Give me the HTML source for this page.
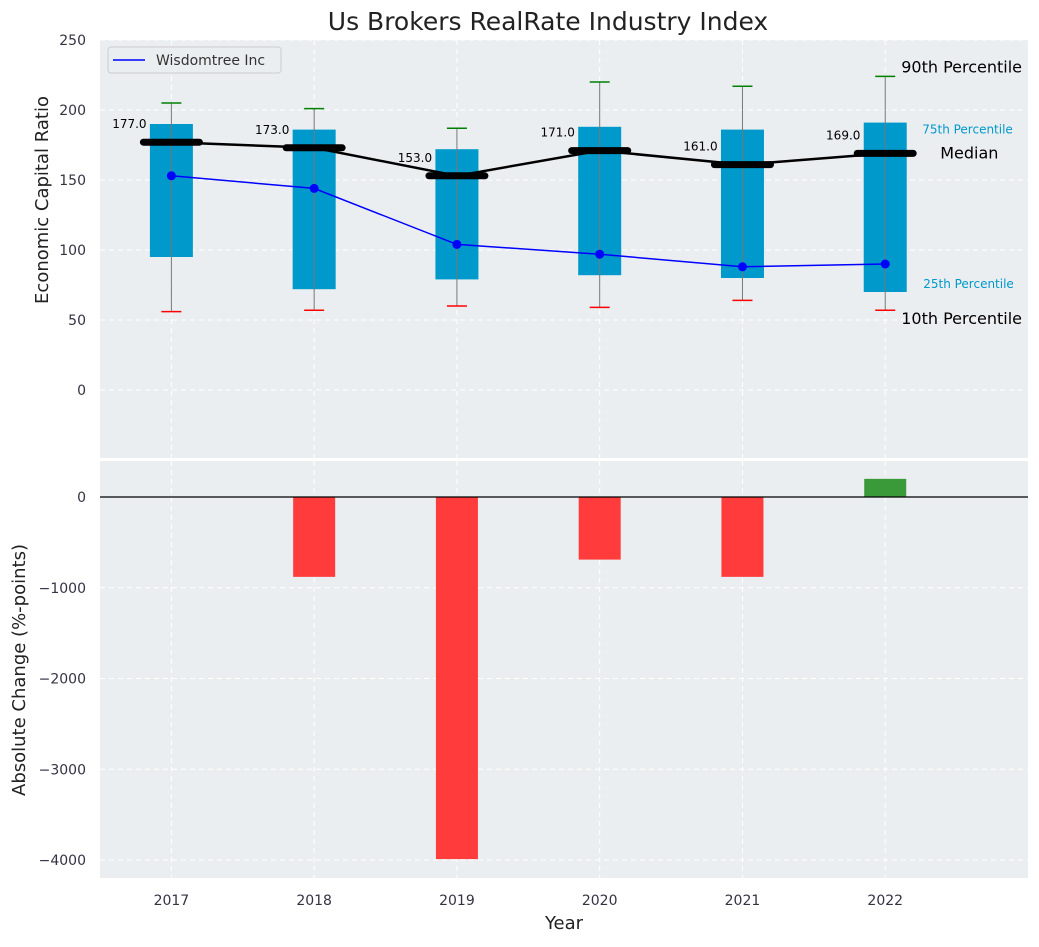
<!DOCTYPE html>
<html><head><meta charset="utf-8"><style>
body{margin:0;background:#fff;}
svg{font-family:"DejaVu Sans","Liberation Sans",sans-serif;}
</style></head><body>
<svg id="c" width="1039" height="942" xmlns="http://www.w3.org/2000/svg"></svg>
<script>
const years=[2017,2018,2019,2020,2021,2022];
const p90=[205,201,187,220,217,224];
const p75=[190,186,172,188,186,191];
const med=[177,173,153,171,161,169];
const p25=[95,72,79,82,80,70];
const p10=[56,57,60,59,64,57];
const company=[153,144,104,97,88,90];
const changes=[0,-880,-3990,-690,-880,200];
const yTicksTop=[0,50,100,150,200,250];
const yTicksBot=[-4000,-3000,-2000,-1000,0];

const NS="http://www.w3.org/2000/svg";
const svg=document.getElementById('c');
function el(t,a,p){const e=document.createElementNS(NS,t);for(const k in a)e.setAttribute(k,a[k]);(p||svg).appendChild(e);return e;}
const L=100,R=1028;
const x=v=>L+(v-2016.5)/(2023-2016.5)*(R-L);
const yT=v=>390-v*1.4;
const yB=v=>497-v*0.09075;

let t=el('text',{x:548,y:30,'text-anchor':'middle','font-size':25,fill:'#222'});t.textContent='Us Brokers RealRate Industry Index';


let bg=el('rect',{x:L,y:40,width:R-L,height:418,fill:'#eaeef0'});

let bg2=el('rect',{x:L,y:461,width:R-L,height:417,fill:'#eaeef0'});


years.forEach(yr=>{
 el('line',{x1:x(yr),x2:x(yr),y1:40,y2:458,stroke:'#fff','stroke-dasharray':'5,4','stroke-width':1});
 el('line',{x1:x(yr),x2:x(yr),y1:461,y2:878,stroke:'#fff','stroke-dasharray':'5,4','stroke-width':1});
 let tl=el('text',{x:x(yr),y:905,'text-anchor':'middle','font-size':14,fill:'#334'});tl.textContent=yr;
 
});
yTicksTop.forEach(v=>{
 el('line',{x1:L,x2:R,y1:yT(v),y2:yT(v),stroke:'#fff','stroke-dasharray':'5,4'});
 let tl=el('text',{x:86,y:yT(v)+5,'text-anchor':'end','font-size':14,fill:'#334'});tl.textContent=v;
 
});
yTicksBot.forEach(v=>{
 el('line',{x1:L,x2:R,y1:yB(v),y2:yB(v),stroke:'#fff','stroke-dasharray':'5,4'});
 let tl=el('text',{x:86,y:yB(v)+5,'text-anchor':'end','font-size':14,fill:'#334'});tl.textContent=(v<0?'\u2212'+(-v):v);
 
});

const bw=43;
years.forEach((yr,i)=>{
 const cx=x(yr);
 let b=el('rect',{x:cx-bw/2,y:yT(p75[i]),width:bw,height:yT(p25[i])-yT(p75[i]),fill:'#0099cc'});
 
 el('line',{x1:cx,x2:cx,y1:yT(p90[i]),y2:yT(p10[i]),stroke:'#777','stroke-width':1});
 let c1=el('line',{x1:cx-10,x2:cx+10,y1:yT(p90[i]),y2:yT(p90[i]),stroke:'green','stroke-width':1.5});
 
 let c2=el('line',{x1:cx-10,x2:cx+10,y1:yT(p10[i]),y2:yT(p10[i]),stroke:'red','stroke-width':1.5});
 
});
let mp=years.map((yr,i)=>x(yr)+','+yT(med[i])).join(' ');
let ml=el('polyline',{points:mp,fill:'none',stroke:'#000','stroke-width':2.5});

years.forEach((yr,i)=>{
 let m=el('line',{x1:x(yr)-28,x2:x(yr)+28,y1:yT(med[i]),y2:yT(med[i]),stroke:'#000','stroke-width':7,'stroke-linecap':'round'});
 
 let lt=el('text',{x:x(yr)-42,y:yT(med[i])-14,'text-anchor':'middle','font-size':12,fill:'#000'});lt.textContent=med[i].toFixed(1);
 
});
let cp=years.map((yr,i)=>x(yr)+','+yT(company[i])).join(' ');
let cl=el('polyline',{points:cp,fill:'none',stroke:'blue','stroke-width':1.5});

years.forEach((yr,i)=>{
 let d=el('circle',{cx:x(yr),cy:yT(company[i]),r:4.5,fill:'blue'});
 
});
const last=years.length-1, lx=x(years[last]);
[['90th Percentile',lx+16,yT(p90[last])-4,16,'#000'],['75th Percentile',lx+37,yT(p75[last])+11,12,'#0099cc'],
 ['Median',lx+55,yT(med[last])+5,16,'#000'],['25th Percentile',lx+38,yT(p25[last])-4,12,'#0099cc'],
 ['10th Percentile',lx+16,yT(p10[last])+14,16,'#000']].forEach(a=>{
 let e=el('text',{x:a[1],y:a[2],'font-size':a[3],fill:a[4]});e.textContent=a[0];
 
});
let lg=el('g',{});
el('rect',{x:108,y:47,width:173,height:26,fill:'#eaeef0',stroke:'#ccc',rx:3},lg);
el('line',{x1:113,x2:145,y1:60,y2:60,stroke:'blue','stroke-width':1.5},lg);
let lt=el('text',{x:156,y:65,'font-size':14,fill:'#333'},lg);lt.textContent='Wisdomtree Inc';

years.forEach((yr,i)=>{
 if(changes[i]===0)return;
 const y0=yB(0),y1=yB(changes[i]);
 let b=el('rect',{x:x(yr)-21,y:Math.min(y0,y1),width:42,height:Math.abs(y1-y0),fill:changes[i]<0?'#ff3b3b':'#3a9a3a'});
 
});
el('line',{x1:L,x2:R,y1:yB(0),y2:yB(0),stroke:'#000','stroke-width':1.2});

let a1=el('text',{x:48,y:200,'text-anchor':'middle','font-size':18,fill:'#222',transform:'rotate(-90 48 200)'});a1.textContent='Economic Capital Ratio';

let a2=el('text',{x:25,y:670,'text-anchor':'middle','font-size':18,fill:'#222',transform:'rotate(-90 25 670)'});a2.textContent='Absolute Change (%-points)';

let a3=el('text',{x:564,y:929,'text-anchor':'middle','font-size':18,fill:'#222'});a3.textContent='Year';

</script>
</body></html>
